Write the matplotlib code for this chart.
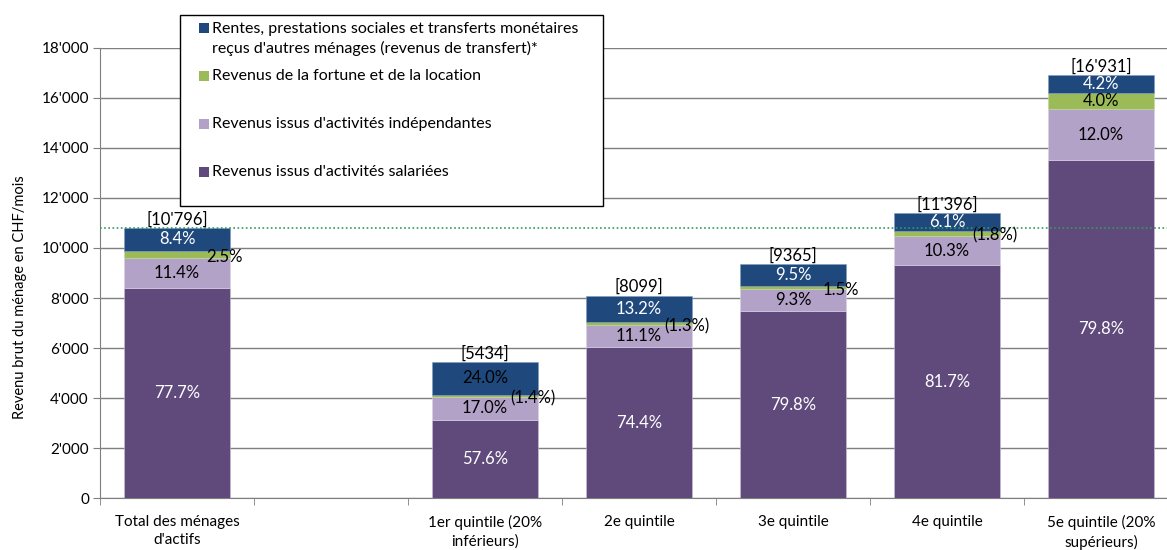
import matplotlib
matplotlib.use('Agg')
import matplotlib.pyplot as plt
import numpy as np
from matplotlib.patches import Rectangle

plt.rcParams['font.family'] = ['Lato', 'DejaVu Sans']

# categories (slot 1 is left empty, as in the original chart)
categories = ["Total des ménages\nd'actifs", "", "1er quintile (20%\ninférieurs)",
              "2e quintile", "3e quintile", "4e quintile", "5e quintile (20%\nsupérieurs)"]
positions = [0, 2, 3, 4, 5, 6]
totals = [10796, 5434, 8099, 9365, 11396, 16931]
total_labels = ["[10'796]", "[5434]", "[8099]", "[9365]", "[11'396]", "[16'931]"]

# shares in %
pct_salaire = [77.7, 57.6, 74.4, 79.8, 81.7, 79.8]
pct_indep = [11.4, 17.0, 11.1, 9.3, 10.3, 12.0]
pct_fortune = [2.5, 1.4, 1.3, 1.5, 1.8, 4.0]
pct_transfert = [8.4, 24.0, 13.2, 9.5, 6.1, 4.2]

fortune_labels = ['2.5%', '(1.4%)', '(1.3%)', '1.5%', '(1.8%)', '4.0%']
fortune_inside = [False, False, False, False, False, True]
transfert_txtcol = ['white', 'black', 'white', 'white', 'white', 'white']

leg_labels = ["Rentes, prestations sociales et transferts monétaires\nreçus d'autres ménages (revenus de transfert)*",
              "Revenus de la fortune et de la location",
              "Revenus issus d'activités indépendantes",
              "Revenus issus d'activités salariées"]

c_sal = '#604a7b'
c_ind = '#b3a2c7'
c_fort = '#9bbb59'
c_trans = '#1f497d'
leg_colors = [c_trans, c_fort, c_ind, c_sal]

W, H = 1167, 550
def fx(px):
    return px / W
def fy(py):
    return 1 - py / H

tot = np.array(totals, dtype=float)
sal = tot * np.array(pct_salaire) / 100
ind = tot * np.array(pct_indep) / 100
fort = tot * np.array(pct_fortune) / 100
trans = tot - sal - ind - fort

fig = plt.figure(figsize=(11.67, 5.5), dpi=100)
ax = fig.add_axes([fx(100), 52 / H, 1078 / W, 450 / H])

w = 0.69
ax.bar(positions, sal, w, color=c_sal, edgecolor='#c9c0d8', linewidth=0.4, zorder=3)
ax.bar(positions, ind, w, bottom=sal, color=c_ind, edgecolor='#d9d2e4', linewidth=0.4, zorder=3)
ax.bar(positions, fort, w, bottom=sal + ind, color=c_fort, edgecolor='#c5d6a0', linewidth=0.4, zorder=3)
ax.bar(positions, trans, w, bottom=sal + ind + fort, color=c_trans, edgecolor='#7f9cc0', linewidth=0.4, zorder=3)

fs = 12
for i, x in enumerate(positions):
    ax.text(x, sal[i] / 2, '%.1f%%' % pct_salaire[i], ha='center', va='center', color='white', fontsize=fs, zorder=5)
    ax.text(x, sal[i] + ind[i] / 2, '%.1f%%' % pct_indep[i], ha='center', va='center', color='black', fontsize=fs, zorder=5)
    yf = sal[i] + ind[i] + fort[i] / 2
    if fortune_inside[i]:
        ax.text(x, yf, fortune_labels[i], ha='center', va='center', color='black', fontsize=fs, zorder=5)
    else:
        ax.text(x + 0.31, yf - 100, fortune_labels[i], ha='center', va='center', color='black', fontsize=fs, zorder=5)
    yt = sal[i] + ind[i] + fort[i] + trans[i] / 2
    ax.text(x, yt, '%.1f%%' % pct_transfert[i], ha='center', va='center', color=transfert_txtcol[i], fontsize=fs, zorder=5)
    ax.text(x, tot[i] + 10, total_labels[i], ha='center', va='bottom', color='black', fontsize=fs, zorder=5)

# average line
ax.axhline(totals[0], color='#2e9b5e', linestyle=(0, (1, 1.5)), linewidth=1.2, zorder=4)

ax.set_xlim(-0.5, 6.5)
ax.set_ylim(0, 18000)
yt_vals = np.arange(0, 18001, 2000)
ax.set_yticks(yt_vals)
ax.set_yticklabels(["0"] + ["%d'000" % (v // 1000) for v in yt_vals[1:]], fontsize=11)
ax.yaxis.grid(True, color='#7f7f7f', linewidth=1.0, zorder=0)
ax.tick_params(axis='y', length=5, color='#7f7f7f', pad=3)

ax.set_xticks(range(7))
ax.set_xticklabels(categories, fontsize=11, linespacing=1.4)
ax.set_xticks(np.arange(-0.5, 7, 1.0), minor=True)
ax.tick_params(axis='x', which='major', length=0, pad=12)
ax.tick_params(axis='x', which='minor', length=5, color='#7f7f7f')

for s in ['top', 'right']:
    ax.spines[s].set_visible(False)
ax.spines['left'].set_color('#7f7f7f')
ax.spines['bottom'].set_color('#7f7f7f')

fig.text(fx(20), fy(297), 'Revenu brut du ménage en CHF/mois', rotation=90,
         ha='center', va='center', fontsize=10.5)

# legend box, drawn by hand to keep the uneven spacing of the original
fig.add_artist(Rectangle((fx(180), fy(206)), fx(603) - fx(180), fy(15) - fy(206),
                         transform=fig.transFigure, facecolor='white', edgecolor='black',
                         linewidth=1.0, zorder=10))
leg_y = [39, 76, 124, 172]
sq_y = [28, 76, 124, 172]
for k in range(4):
    fig.add_artist(Rectangle((fx(199), fy(sq_y[k] + 5)), fx(209) - fx(199), fy(sq_y[k] - 5) - fy(sq_y[k] + 5),
                             transform=fig.transFigure, facecolor=leg_colors[k], edgecolor='none', zorder=11))
    fig.text(fx(212), fy(leg_y[k]), leg_labels[k], ha='left', va='center', fontsize=11.5,
             linespacing=1.45, zorder=12)

fig.savefig('out.png', dpi=100)
